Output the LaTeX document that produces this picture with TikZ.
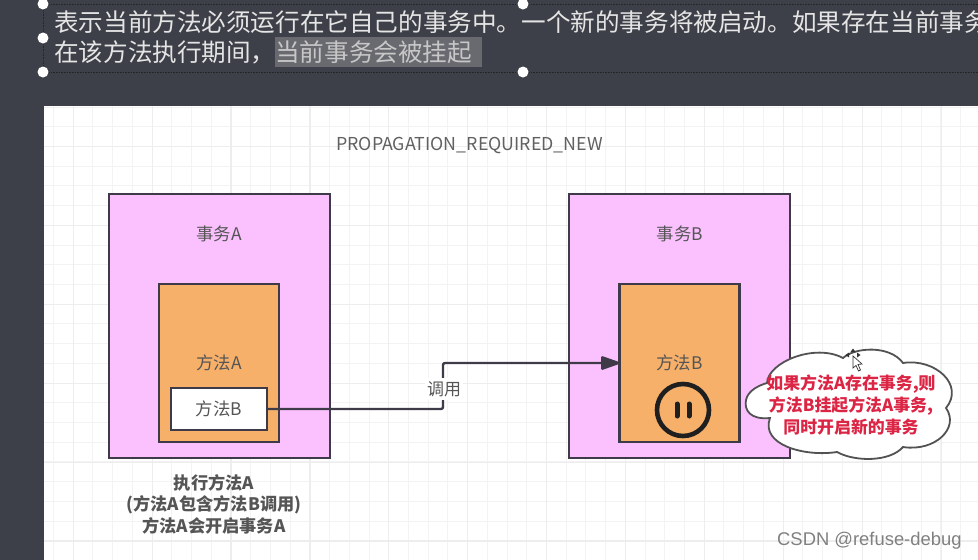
\documentclass[tikz,border=0pt]{standalone}
\usepackage{fontspec}
\usetikzlibrary{arrows.meta}
\setmainfont{Noto Sans CJK SC}
\newfontfamily\wmfont{Liberation Sans}
\definecolor{darkbg}{HTML}{3E4049}
\definecolor{gridminor}{HTML}{F3F3F3}
\definecolor{gridmajor}{HTML}{EDEDED}
\definecolor{pinkfill}{HTML}{FBC1FF}
\definecolor{orangefill}{HTML}{F6B06A}
\definecolor{edge}{HTML}{3F3A48}
\definecolor{labelgray}{HTML}{555555}
\definecolor{cloudred}{HTML}{DC2444}
\definecolor{hilite}{HTML}{686A70}
\tikzset{
  txbox/.style={draw=edge,line width=2.6pt,fill=pinkfill,minimum width=221pt,minimum height=264pt,inner sep=0pt,outer sep=0pt},
  methodbox/.style={draw=edge,line width=2.6pt,fill=orangefill,minimum width=120pt,minimum height=158pt,inner sep=0pt,outer sep=0pt,text=labelgray,font=\fontsize{17.4}{20}\selectfont},
  callbox/.style={draw=edge,line width=2.6pt,fill=white,minimum width=96pt,minimum height=42pt,inner sep=0pt,outer sep=0pt,text=labelgray,font=\fontsize{17.4}{20}\selectfont},
  plainlabel/.style={inner sep=0pt,text=labelgray,font=\fontsize{17.4}{20}\selectfont},
  boldcaption/.style={inner sep=0pt,align=center,text=labelgray,font=\fontsize{17.2}{21.5}\selectfont\bfseries},
  cloudtext/.style={inner sep=0pt,align=center,text=cloudred,font=\fontsize{16.9}{22}\selectfont\bfseries},
  headline/.style={inner sep=0pt,anchor=west,text=white!90!black,font=\fontsize{24.6}{28}\selectfont},
  handle/.style={circle,fill=white,minimum size=11pt,inner sep=0pt},
  selline/.style={densely dotted,line width=0.6pt,black!85},
  conn/.style={draw=edge,line width=2.4pt,rounded corners=2pt},
  gminor/.style={gridminor,line width=1pt},
  gmajor/.style={gridmajor,line width=1.2pt},
}
\begin{document}
\begin{tikzpicture}[x=1pt,y=-1pt]
\useasboundingbox (0,0) rectangle (978,560);
\clip (0,0) rectangle (978,560);
\fill[darkbg] (0,0) rectangle (978,560);
\fill[white] (44,106) rectangle (978,560);
% grid
\foreach \k in {0,...,46}{
  \pgfmathsetmacro{\gx}{53.5+19.72*\k}
  \draw[gminor] (\gx,106) -- (\gx,560);
}
\foreach \k in {0,...,22}{
  \pgfmathsetmacro{\gy}{107+19.72*\k}
  \draw[gminor] (44,\gy) -- (978,\gy);
}
\foreach \k in {0,...,11}{
  \pgfmathsetmacro{\gx}{73.2+78.9*\k}
  \draw[gmajor] (\gx,106) -- (\gx,560);
}
\foreach \k in {0,...,5}{
  \pgfmathsetmacro{\gy}{146.5+78.9*\k}
  \draw[gmajor] (44,\gy) -- (978,\gy);
}
% heading and selection frame
\draw[selline] (43,4) -- (978,4);
\draw[selline] (43,72) -- (978,72);
\draw[selline] (43,4) -- (43,72);
\node[headline] (line1) at (54,22) {表示当前方法必须运行在它自己的事务中。一个新的事务将被启动。如果存在当前事务};
\node[headline] (line2) at (54,52) {在该方法执行期间，};
\node[headline,fill=hilite,text=white!78!black,minimum height=30pt,text width=207pt,align=left] (line2b) at (275,52) {当前事务会被挂起};
\node[handle] (h1) at (43,4) {};
\node[handle] (h2) at (523,4) {};
\node[handle] (h3) at (43,38) {};
\node[handle] (h4) at (43,72) {};
\node[handle] (h5) at (523,72) {};
% title
\node[plainlabel,text=black!62,font=\fontsize{17.8}{20}\selectfont] (title) at (469.5,145) {PROPAGATION\_REQUIRED\_NEW};
% boxes
\node[txbox] (txA) at (219.5,326) {};
\node[txbox] (txB) at (679.5,326) {};
\node[plainlabel] (txAl) at (219,234) {事务A};
\node[plainlabel] (txBl) at (680,234) {事务B};
\node[methodbox] (mA) at (219,363) {方法A};
\node[methodbox] (mB) at (679.5,363) {方法B};
\node[callbox] (call) at (219,409) {方法B};
% connector
\coordinate (elbow) at (443,363);
\draw[conn,-{Triangle[length=21pt,width=14pt,round]}] (call.east) -| (elbow) -- (mB.west);
\node[plainlabel,fill=white,inner xsep=2pt,inner ysep=3pt,font=\fontsize{17}{18}\selectfont] (calllabel) at (444,389) {调用};
% pause icon
\node[circle,draw=black!88,line width=4.6pt,minimum size=52pt,inner sep=0pt] (pause) at (683,410) {};
\draw[black!88,line width=5pt,line cap=round] ([xshift=-6pt,yshift=-6pt]pause.center) -- ([xshift=-6pt,yshift=6pt]pause.center);
\draw[black!88,line width=5pt,line cap=round] ([xshift=6pt,yshift=-6pt]pause.center) -- ([xshift=6pt,yshift=6pt]pause.center);
% caption
\node[boldcaption] (caption) at (214,504) {执行方法A\\(方法A包含方法B调用)\\方法A会开启事务A};
% cloud
\draw[draw=black!68,line width=1.8pt,fill=white]
  (746,400) .. controls (748,390) and (760,385) .. (767,383)
  .. controls (768,362) and (815,343) .. (843,358)
  .. controls (855,347) and (890,345) .. (903,363)
  .. controls (935,358) and (965,385) .. (946,408)
  .. controls (960,428) and (935,452) .. (903,447)
  .. controls (890,462) and (855,462) .. (837,452)
  .. controls (805,457) and (760,445) .. (770,418)
  .. controls (750,420) and (744,410) .. (746,400) -- cycle;
\node[cloudtext] (cloudlabel) at (851,404.5) {如果方法A存在事务,则\\方法B挂起方法A事务,\\同时开启新的事务};
% cursor
\fill[black!80] (853,348.5) -- (850.5,352) -- (855.5,352) -- cycle;
\fill[black!80] (845.5,355) -- (849,352.5) -- (849,357.5) -- cycle;
\fill[black!80] (860.5,355) -- (857,352.5) -- (857,357.5) -- cycle;
\draw[black!80,fill=white,line width=0.7pt] (853,356) -- (853,368) -- (856,365.5) -- (858.5,371) -- (860.5,370) -- (858,364.5) -- (862,364) -- cycle;
% watermark
\node[inner sep=0pt,anchor=west,text=black!50,font=\wmfont\fontsize{18.4}{20}\selectfont] (wm) at (777,540.5) {CSDN @refuse-debug};
\end{tikzpicture}
\end{document}
